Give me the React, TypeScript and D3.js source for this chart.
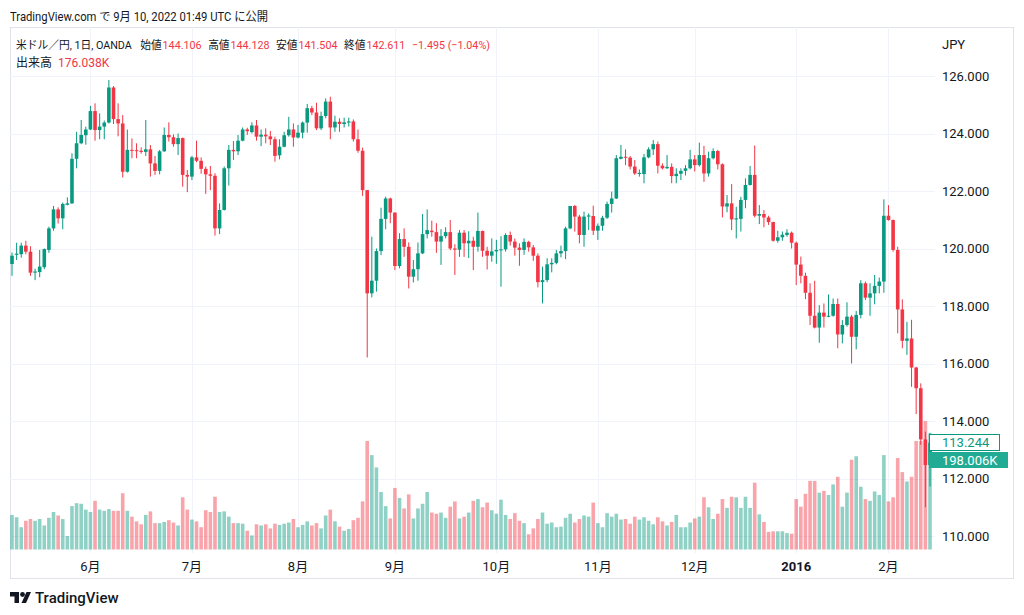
import React from "react";
import * as d3 from "d3";

// daily candles (index 0 = first visible session)
const openP = [
  119.46, 119.78, 119.8, 120.1, 119.89, 119.16, 119.18, 119.35, 119.95, 120.7,
  121.36, 121.05, 121.52, 121.57, 123.12, 123.66, 123.94, 124.14, 124.78, 124.12,
  124.24, 124.38, 125.6, 124.5, 124.35, 122.67, 123.43, 123.42, 123.4, 123.36,
  123.45, 122.96, 122.7, 123.38, 123.95, 123.87, 123.63, 123.84, 122.56, 122.5,
  123.17, 123.05, 122.77, 122.58, 122.53, 120.7, 121.34, 122.79, 123.43, 123.38,
  123.75, 124.14, 124.05, 124.28, 123.89, 123.96, 123.9, 123.8, 123.24, 123.54,
  123.94, 124.14, 123.86, 124.03, 124.38, 124.88, 124.73, 124.18, 124.61, 125.11,
  124.21, 124.41, 124.33, 124.38, 124.42, 123.8, 123.4, 122.03, 118.44, 118.88,
  119.91, 121.03, 121.74, 121.25, 119.39, 120.33, 120.06, 119.02, 119.28, 119.83,
  120.5, 120.62, 120.57, 120.24, 120.43, 120.57, 120.0, 119.96, 120.55, 120.18,
  120.27, 120.06, 120.61, 119.92, 119.75, 119.9, 119.95, 119.97, 120.47, 120.24,
  120.03, 119.95, 120.23, 120.04, 119.75, 118.83, 118.9, 119.45, 119.5, 119.83,
  119.91, 120.7, 121.48, 121.11, 120.47, 121.11, 121.13, 120.62, 120.79, 121.07,
  121.55, 121.74, 123.12, 123.19, 123.16, 122.85, 122.59, 122.59, 123.17, 123.45,
  123.63, 122.88, 122.79, 122.84, 122.52, 122.6, 122.7, 122.79, 123.1, 122.9,
  123.25, 122.61, 123.14, 123.39, 122.93, 121.46, 121.57, 121.01, 121.03, 121.69,
  122.21, 122.56, 121.14, 121.2, 121.08, 120.92, 120.27, 120.39, 120.47, 120.55,
  120.2, 119.44, 119.05, 118.46, 117.66, 117.25, 117.77, 117.63, 117.66, 118.07,
  117.01, 117.34, 117.63, 116.93, 117.69, 118.79, 118.29, 118.44, 118.7, 118.85,
  121.14, 120.99, 119.95, 117.88, 116.79, 116.87, 115.86, 115.14, 113.36, 112.47,
];
const highP = [
  119.86, 120.2, 120.2, 120.27, 120.08, 119.3, 119.95, 120.0, 120.76, 121.48,
  121.43, 121.6, 121.78, 123.31, 124.06, 124.47, 124.24, 124.96, 125.05, 124.7,
  124.45, 125.86, 125.65, 125.05, 124.64, 124.14, 123.83, 123.66, 123.52, 124.47,
  123.6, 123.22, 123.43, 124.21, 124.39, 123.97, 124.0, 123.86, 122.73, 123.22,
  123.75, 123.17, 122.85, 122.87, 122.62, 121.57, 122.85, 123.6, 123.74, 123.95,
  124.21, 124.2, 124.39, 124.47, 124.14, 124.18, 124.09, 123.89, 123.8, 124.06,
  124.58, 124.35, 124.3, 124.42, 125.03, 124.96, 125.07, 124.76, 125.22, 125.28,
  124.62, 124.53, 124.55, 124.55, 124.49, 124.14, 123.51, 122.03, 120.41, 120.0,
  121.42, 121.8, 121.77, 121.25, 120.53, 120.7, 120.21, 119.6, 120.21, 121.2,
  121.36, 120.97, 120.88, 120.67, 120.74, 120.99, 120.15, 120.64, 120.64, 120.6,
  120.41, 121.25, 120.62, 120.06, 120.35, 120.3, 120.43, 120.53, 120.59, 120.35,
  120.18, 120.35, 120.27, 120.12, 119.83, 119.37, 119.66, 119.66, 119.95, 120.1,
  120.76, 121.48, 121.51, 121.17, 121.28, 121.22, 121.49, 120.87, 121.14, 121.63,
  121.98, 123.25, 123.6, 123.45, 123.22, 123.08, 122.75, 123.29, 123.52, 123.77,
  123.72, 122.96, 123.25, 122.96, 122.79, 122.79, 122.9, 123.43, 123.25, 123.68,
  123.57, 123.37, 123.48, 123.43, 122.96, 121.86, 122.24, 121.45, 121.8, 122.44,
  122.87, 123.58, 121.51, 121.34, 121.14, 120.93, 120.62, 120.59, 120.67, 120.59,
  120.24, 119.72, 119.16, 118.79, 118.88, 118.03, 118.09, 118.4, 118.26, 118.26,
  117.51, 118.13, 117.69, 117.83, 118.9, 118.85, 118.79, 119.08, 118.99, 121.71,
  121.51, 121.01, 120.06, 118.23, 117.45, 117.52, 115.89, 115.31, 113.63, 113.59,
];
const lowP = [
  119.05, 119.6, 119.68, 119.8, 119.05, 118.9, 119.0, 119.28, 119.85, 120.62,
  120.87, 120.67, 121.5, 121.55, 122.79, 123.63, 123.61, 124.12, 123.75, 123.8,
  123.8, 124.35, 124.33, 123.9, 122.47, 122.64, 123.14, 123.14, 123.3, 123.22,
  122.5, 122.56, 122.58, 123.36, 123.72, 123.54, 123.25, 122.15, 121.96, 122.38,
  123.0, 122.6, 121.9, 122.03, 120.45, 120.5, 121.32, 122.19, 123.08, 123.25,
  123.73, 123.95, 124.0, 123.75, 123.56, 123.66, 123.6, 123.02, 123.1, 123.52,
  123.89, 123.54, 123.83, 123.83, 124.03, 124.64, 124.12, 124.12, 124.53, 123.8,
  124.06, 124.06, 124.21, 124.24, 123.72, 123.33, 121.83, 116.21, 118.3, 118.5,
  119.77, 120.67, 120.88, 119.25, 119.31, 119.71, 118.61, 118.82, 118.88, 119.81,
  120.35, 120.41, 119.85, 119.43, 120.35, 119.94, 119.08, 119.71, 119.71, 119.67,
  119.25, 119.89, 119.71, 119.27, 119.54, 119.47, 118.67, 119.89, 120.1, 119.75,
  119.4, 119.78, 119.89, 119.57, 118.65, 118.09, 118.83, 119.17, 119.45, 119.69,
  119.63, 120.67, 120.59, 120.18, 120.06, 120.64, 120.47, 120.3, 120.62, 121.03,
  121.25, 121.72, 123.1, 122.9, 122.75, 122.56, 122.5, 122.27, 123.14, 123.25,
  122.61, 122.75, 122.77, 122.27, 122.27, 122.38, 122.54, 122.75, 122.68, 122.85,
  122.32, 122.5, 123.1, 122.75, 121.08, 121.26, 120.64, 120.35, 120.59, 121.4,
  122.19, 121.08, 120.85, 120.74, 120.82, 120.24, 120.2, 120.27, 120.41, 120.0,
  118.73, 118.79, 118.24, 117.34, 117.22, 116.72, 117.25, 117.61, 117.63, 116.53,
  116.7, 117.28, 116.0, 116.49, 117.57, 118.21, 117.66, 118.06, 118.44, 118.46,
  120.97, 119.89, 117.05, 116.53, 116.3, 115.19, 114.24, 113.17, 111.0, 111.72,
];
const closeP = [
  119.75, 119.82, 120.1, 119.89, 119.16, 119.2, 119.37, 119.98, 120.7, 121.36,
  121.05, 121.55, 121.57, 123.12, 123.66, 123.95, 124.14, 124.78, 124.12, 124.24,
  124.38, 125.6, 124.5, 124.35, 122.67, 123.43, 123.4, 123.39, 123.36, 123.45,
  122.96, 122.7, 123.38, 123.95, 123.87, 123.63, 123.84, 122.56, 122.5, 123.17,
  123.05, 122.77, 122.58, 122.53, 120.7, 121.34, 122.79, 123.43, 123.38, 123.75,
  124.14, 124.08, 124.28, 123.89, 123.96, 123.9, 123.8, 123.22, 123.54, 123.94,
  124.14, 123.86, 124.03, 124.38, 124.88, 124.73, 124.18, 124.61, 125.11, 124.21,
  124.41, 124.33, 124.39, 124.42, 123.8, 123.4, 122.03, 118.44, 118.88, 119.91,
  121.03, 121.74, 121.25, 119.39, 120.33, 120.06, 119.02, 119.28, 119.83, 120.5,
  120.64, 120.57, 120.24, 120.43, 120.57, 120.0, 119.96, 120.55, 120.18, 120.27,
  120.06, 120.61, 119.92, 119.75, 119.9, 119.95, 119.97, 120.47, 120.24, 120.03,
  119.95, 120.23, 120.04, 119.75, 118.83, 118.9, 119.45, 119.5, 119.83, 119.91,
  120.7, 121.48, 121.11, 120.47, 121.11, 121.15, 120.62, 120.79, 121.07, 121.55,
  121.74, 123.14, 123.19, 123.16, 122.85, 122.61, 122.63, 123.17, 123.45, 123.63,
  122.88, 122.79, 122.84, 122.52, 122.6, 122.7, 122.79, 123.1, 122.9, 123.25,
  122.61, 123.14, 123.39, 122.93, 121.46, 121.57, 121.01, 121.05, 121.69, 122.21,
  122.56, 121.14, 121.2, 121.08, 120.92, 120.27, 120.39, 120.48, 120.55, 120.2,
  119.44, 119.05, 118.46, 117.66, 117.25, 117.77, 117.63, 117.66, 118.07, 117.01,
  117.34, 117.63, 116.93, 117.69, 118.79, 118.29, 118.44, 118.7, 118.85, 121.14,
  120.99, 119.95, 117.88, 116.79, 116.87, 115.86, 115.14, 113.36, 112.47, 113.244,
];
// volume in thousands
const volumeK = [
  59, 55, 38, 49, 52, 49, 52, 41, 54, 64, 58, 52, 23, 74, 79, 78, 68, 64, 83, 68,
  66, 69, 66, 66, 96, 66, 56, 48, 43, 59, 65, 45, 45, 47, 50, 46, 41, 89, 68, 51,
  48, 38, 67, 64, 90, 64, 65, 56, 45, 45, 44, 32, 24, 43, 41, 43, 36, 44, 42, 44,
  46, 52, 38, 42, 48, 41, 45, 36, 58, 68, 48, 39, 32, 35, 50, 54, 82, 185, 161, 140,
  98, 74, 53, 105, 88, 70, 94, 53, 70, 78, 98, 63, 61, 63, 54, 73, 82, 53, 56, 63,
  83, 86, 72, 80, 67, 61, 85, 59, 52, 62, 49, 45, 26, 36, 52, 63, 44, 46, 38, 39,
  54, 61, 46, 52, 58, 56, 80, 45, 38, 62, 56, 61, 51, 52, 44, 56, 51, 55, 49, 43,
  55, 48, 41, 47, 59, 38, 38, 46, 53, 56, 89, 72, 52, 61, 86, 71, 90, 89, 71, 90,
  71, 114, 60, 47, 30, 31, 31, 31, 28, 27, 86, 73, 95, 117, 117, 97, 100, 93, 111, 124,
  73, 97, 153, 159, 107, 86, 83, 99, 93, 161, 82, 89, 156, 132, 116, 124, 185, 185, 219, 198.006,
];

const monthIdx = [17, 39, 62, 83, 105, 127, 148, 170, 190];
const monthLabels = ["6月", "7月", "8月", "9月", "10月", "11月", "12月", "2016", "2月"];
const priceTicks = [110, 112, 114, 116, 118, 120, 122, 124, 126];

const UP = "#089981";
const DOWN = "#f23645";
const UP_VOL = "rgba(8,153,129,0.45)";
const DOWN_VOL = "rgba(242,54,69,0.45)";
const TXT = "#131722";
const GRID = "#f0f3fa";
const FONT = "Roboto, 'Noto Sans CJK JP', sans-serif";

export default function App() {
  const x = d3.scaleLinear().domain([0, openP.length - 1]).range([12, 930]);
  const y = d3.scaleLinear().domain([110, 126]).range([536, 76]);
  const v = d3.scaleLinear().domain([0, 220]).range([549.5, 420.5]);
  const bw = 3.6;

  const plotL = 10, plotR = 935, plotT = 27, plotB = 553;

  return (
    <svg width={1024} height={615} style={{ position: "absolute", left: 0, top: 0, background: "#fff" }} fontFamily={FONT}>
      <rect width={1024} height={615} fill="#fff" />
      <text x={10} y={21} fontSize={12} fill={TXT} textLength={258} lengthAdjust="spacingAndGlyphs">
        TradingView.com で 9月 10, 2022 01:49 UTC に公開
      </text>

      {/* frame */}
      <rect x={10.5} y={27.5} width={1003} height={551} fill="none" stroke="#e0e3eb" />

      <defs>
        <clipPath id="plot">
          <rect x={plotL} y={plotT} width={plotR - plotL} height={plotB - plotT} />
        </clipPath>
      </defs>

      {/* grid */}
      {priceTicks.map((p) => (
        <line key={"h" + p} x1={plotL} x2={plotR} y1={Math.round(y(p)) + 0.5} y2={Math.round(y(p)) + 0.5} stroke={GRID} />
      ))}
      {monthIdx.map((m) => (
        <line key={"v" + m} x1={Math.round(x(m)) + 0.5} x2={Math.round(x(m)) + 0.5} y1={plotT} y2={plotB} stroke={GRID} />
      ))}

      <g clipPath="url(#plot)">
        {/* volume */}
        {volumeK.map((vol, i) => (
          <rect key={"vb" + i} x={x(i) - bw / 2} y={v(vol)} width={bw} height={v(0) - v(vol)}
            fill={closeP[i] >= openP[i] ? UP_VOL : DOWN_VOL} />
        ))}
        {/* candles */}
        {openP.map((o, i) => {
          const c = closeP[i];
          const col = c >= o ? UP : DOWN;
          const top = y(Math.max(o, c));
          const h = Math.max(1, Math.abs(y(o) - y(c)));
          return (
            <g key={"c" + i}>
              <rect x={x(i) - 0.5} y={y(highP[i])} width={1} height={y(lowP[i]) - y(highP[i])} fill={col} />
              <rect x={x(i) - bw / 2} y={top} width={bw} height={h} fill={col} />
            </g>
          );
        })}
      </g>

      {/* legend */}
      <text x={16} y={49} fontSize={11.5} fill={TXT} textLength={474} lengthAdjust="spacingAndGlyphs">
        <tspan>米ドル／円, 1日, OANDA</tspan>
        <tspan dx={9}>始値</tspan><tspan dx={1} fill={DOWN}>144.106</tspan>
        <tspan dx={7}>高値</tspan><tspan dx={1} fill={DOWN}>144.128</tspan>
        <tspan dx={7}>安値</tspan><tspan dx={1} fill={DOWN}>141.504</tspan>
        <tspan dx={7}>終値</tspan><tspan dx={1} fill={DOWN}>142.611</tspan>
        <tspan dx={7} fill={DOWN}>−1.495 (−1.04%)</tspan>
      </text>
      <text x={16} y={67} fontSize={12} fill={TXT}>
        <tspan>出来高</tspan><tspan dx={6} fill={DOWN}>176.038K</tspan>
      </text>

      {/* price axis */}
      <text x={942} y={49} fontSize={13} fill={TXT}>JPY</text>
      {priceTicks.map((p) => (
        <text key={"t" + p} x={942} y={y(p)} dy="0.35em" fontSize={13} fill={TXT}>{p.toFixed(3)}</text>
      ))}

      {/* last value labels */}
      <rect x={929.5} y={434.5} width={70} height={16} fill="#fff" stroke={UP} />
      <text x={942} y={442.5} dy="0.35em" fontSize={13} fill={UP}>{closeP[closeP.length - 1].toFixed(3)}</text>
      <rect x={929} y={452} width={79} height={16} fill="#22ab94" />
      <text x={942} y={460} dy="0.35em" fontSize={13} fill="#fff">{volumeK[volumeK.length - 1].toFixed(3)}K</text>

      {/* time axis */}
      {monthIdx.map((m, k) => (
        <text key={"m" + m} x={x(m)} y={566} dy="0.35em" textAnchor="middle" fontSize={13}
          fontWeight={monthLabels[k] === "2016" ? 700 : 400} fill={TXT}>{monthLabels[k]}</text>
      ))}

      {/* logo */}
      <g fill={TXT}>
        <path d="M10 592 h9 v11 h-4.5 v-6.5 h-4.5 z" />
        <circle cx={22.5} cy={594.5} r={2.4} />
        <path d="M26.5 592 h4.5 l-5 11 h-4.5 z" />
      </g>
      <text x={35} y={603} fontSize={15} fontWeight={500} fill={TXT}>TradingView</text>
    </svg>
  );
}
